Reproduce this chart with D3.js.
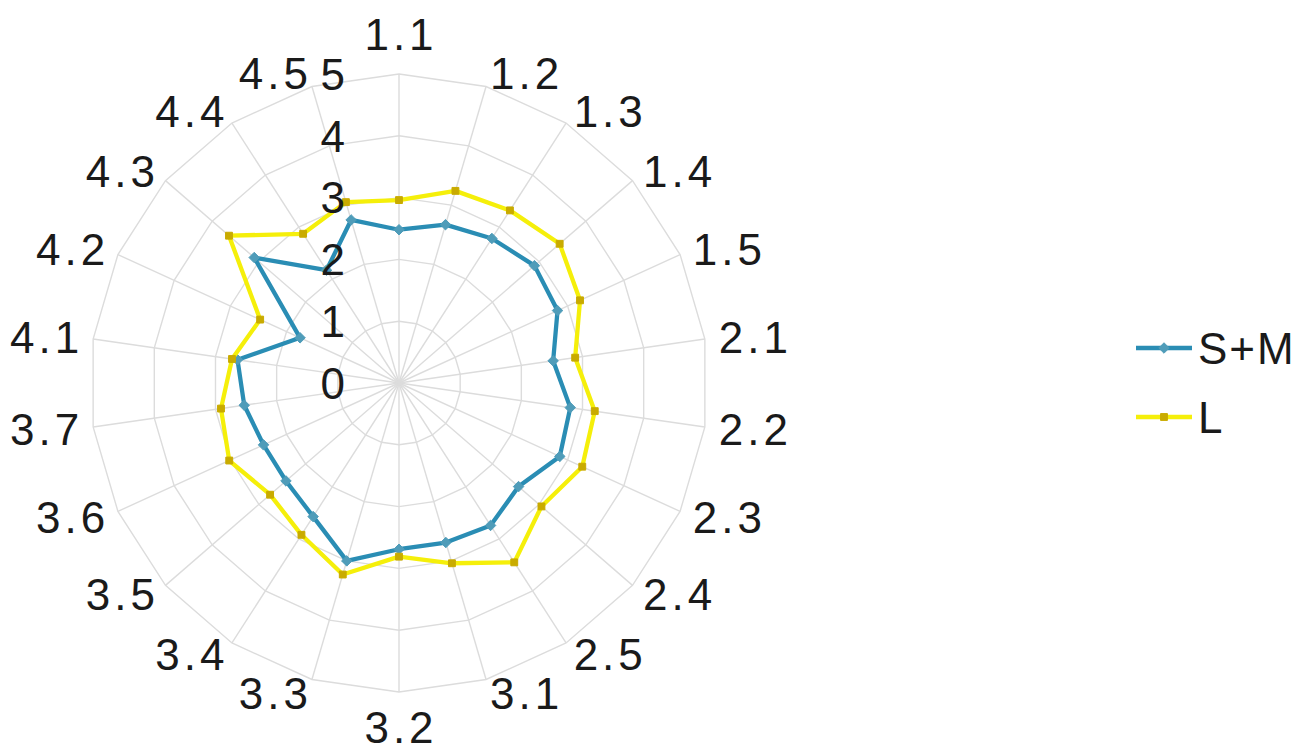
<!DOCTYPE html>
<html><head><meta charset="utf-8">
<script src="https://cdn.jsdelivr.net/npm/d3@7"></script>
<style>
html,body{margin:0;padding:0;background:#fff;}
svg text{font-family:"Liberation Sans",Arial,sans-serif;fill:#1a1a1a;}
</style></head>
<body>
<svg id="chart" width="1298" height="752"></svg>
<script>
const categories = ["1.1","1.2","1.3","1.4","1.5","2.1","2.2","2.3","2.4","2.5","3.1","3.2","3.3","3.4","3.5","3.6","3.7","4.1","4.2","4.3","4.4","4.5"];
const seriesSM = [2.48,2.67,2.78,2.90,2.82,2.52,2.80,2.86,2.56,2.74,2.69,2.69,3.00,2.57,2.42,2.41,2.53,2.64,1.76,3.10,2.17,2.75];
const seriesL  = [2.96,3.24,3.32,3.44,3.22,2.88,3.20,3.26,3.05,3.45,3.04,2.81,3.23,2.92,2.76,3.02,2.91,2.73,2.47,3.64,2.87,3.05];
const radialTicks = [0,1,2,3,4,5];
const seriesNames = ["S+M","L"];

const svg = d3.select("#chart");
const cx = 399, cy = 383, R = 309;
const fs = 44;
const r = d3.scaleLinear().domain([0,5]).range([0,R]);
const step = 2*Math.PI/categories.length;
const angle = c => categories.indexOf(c)*step;
const pt = (c, v) => { const a = angle(c); return [cx + r(v)*Math.sin(a), cy - r(v)*Math.cos(a)]; };

const g = svg.append("g");
// rings
radialTicks.filter(t => t>0).forEach(t => {
  g.append("path")
    .attr("d", d3.line()(categories.map(c => pt(c,t))) + "Z")
    .attr("fill","none").attr("stroke","#dcdcdc").attr("stroke-width",1.4);
});
// spokes
categories.forEach(c => {
  const [x,y] = pt(c,5);
  g.append("line").attr("x1",cx).attr("y1",cy).attr("x2",x).attr("y2",y)
   .attr("stroke","#dcdcdc").attr("stroke-width",1.4);
});

const colors = {sm:{line:"#2a8db4", mark:"#4f9cb9"}, l:{line:"#f5ef0a", mark:"#c9ab00"}};
const lineGen = d3.line().curve(d3.curveLinearClosed);

function drawSeries(vals, col, type){
  const pts = categories.map((c,i) => pt(c, vals[i]));
  svg.append("path").attr("d", lineGen(pts)).attr("fill","none")
    .attr("stroke", col.line).attr("stroke-width",4.3).attr("stroke-linejoin","round");
  const sym = d3.symbol().type(type === "diamond" ? d3.symbolDiamond2 : d3.symbolSquare2).size(type==="diamond"?70:60);
  svg.selectAll(null).data(pts).enter().append("path")
    .attr("d", sym).attr("transform", d => `translate(${d[0]},${d[1]})`)
    .attr("fill", col.mark).attr("stroke", col.mark).attr("stroke-width",1);
}
drawSeries(seriesSM, colors.sm, "diamond");
drawSeries(seriesL, colors.l, "square");

// radial tick labels
svg.selectAll(null).data(radialTicks).enter().append("text")
  .attr("x", 345).attr("y", d => cy - r(d) + 0.358*fs)
  .attr("text-anchor","end").attr("font-size", fs).text(d => d);

// category labels
categories.forEach(c => {
  const a = angle(c);
  const s = Math.sin(a), co = Math.cos(a);
  const t = svg.append("text").attr("font-size", fs).attr("letter-spacing", 4).text(c);
  if (Math.abs(s) < 1e-6) {
    t.attr("text-anchor","middle");
    if (co > 0) t.attr("x", cx + 2).attr("y", cy - R - 24);
    else t.attr("x", cx + 2).attr("y", cy + R + 19 + 0.716*fs);
  } else {
    const rr = R + 14;
    const x = cx + rr*s, y = cy - rr*co;
    t.attr("text-anchor", s > 0 ? "start" : "end")
     .attr("x", s > 0 ? x : x + 4).attr("y", y + 0.358*fs);
  }
});

// legend
const legend = svg.append("g");
[[colors.sm,"diamond",348],[colors.l,"square",417]].forEach((d,i) => {
  const [col,type,y] = d;
  legend.append("line").attr("x1",1136).attr("x2",1192).attr("y1",y).attr("y2",y)
    .attr("stroke",col.line).attr("stroke-width",4.3);
  const sym = d3.symbol().type(type === "diamond" ? d3.symbolDiamond2 : d3.symbolSquare2).size(type==="diamond"?70:60);
  legend.append("path").attr("d",sym).attr("transform",`translate(1164,${y})`)
    .attr("fill",col.mark).attr("stroke",col.mark);
  legend.append("text").attr("x",1198).attr("y", y + 0.358*fs).attr("font-size",fs)
    .attr("letter-spacing",2).text(seriesNames[i]);
});
</script>
</body></html>
